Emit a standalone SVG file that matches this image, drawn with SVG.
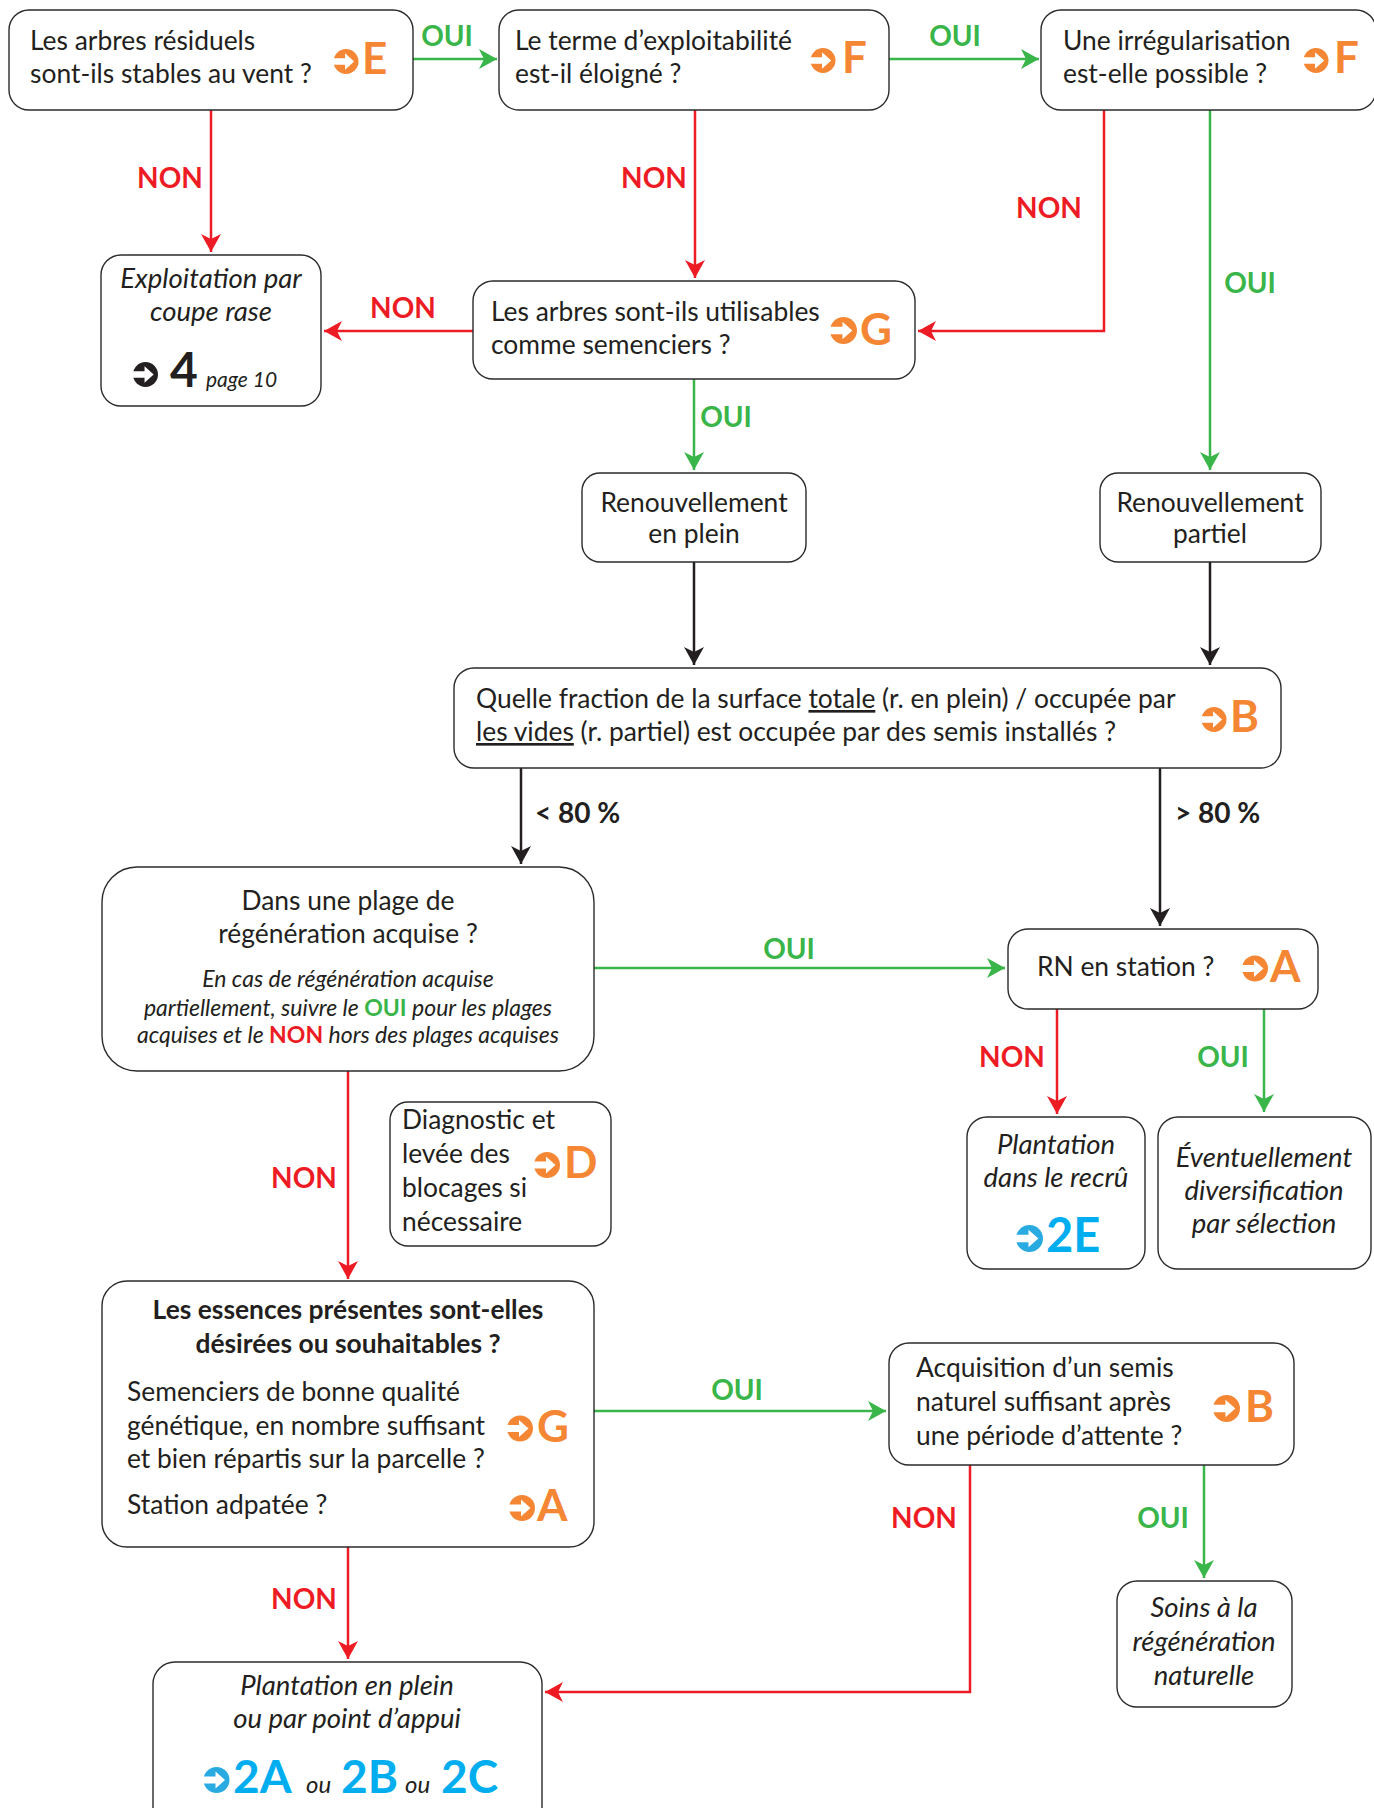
<svg xmlns="http://www.w3.org/2000/svg" xmlns:xlink="http://www.w3.org/1999/xlink" width="1374" height="1808" viewBox="0 0 1374 1808">
<style>
.box{fill:#fff;stroke:#2b2b2b;stroke-width:1.4}
.t{font-family:Lato,"Open Sans",sans-serif;font-size:26.4px;fill:#231F20}
.c{text-anchor:middle}
.i{font-style:italic;font-size:27.5px}
.bd{font-weight:bold}
.lab{font-family:Lato,"Open Sans",sans-serif;font-weight:bold;font-size:28px;text-anchor:middle}
.oui{fill:#39B54A}
.non{fill:#ED1C24}
.ref{font-family:Lato,"Open Sans",sans-serif;font-weight:bold;font-size:44px;fill:#F58634}
.blue{font-family:Lato,"Open Sans",sans-serif;font-weight:bold;font-size:46px;fill:#00AEEF}
.cn{fill:none;stroke-width:2.5}
.r{stroke:#ED1C24}
.g{stroke:#39B54A}
.k{stroke:#231F20}
</style>
<defs>
<symbol id="ar" viewBox="0 0 26 26">
<circle cx="13" cy="13" r="13"/>
<path d="M-1 9.5 H12 V4.5 L21.5 13 L12 21.5 V16.5 H-1 Z" fill="#fff"/>
</symbol>
<marker id="mr" markerUnits="userSpaceOnUse" markerWidth="18" markerHeight="20" refX="18" refY="10" orient="auto" viewBox="0 0 18 20"><path d="M0,0 L18,10 L0,20 L5,10 Z" fill="#ED1C24"/></marker>
<marker id="mg" markerUnits="userSpaceOnUse" markerWidth="18" markerHeight="20" refX="18" refY="10" orient="auto" viewBox="0 0 18 20"><path d="M0,0 L18,10 L0,20 L5,10 Z" fill="#39B54A"/></marker>
<marker id="mk" markerUnits="userSpaceOnUse" markerWidth="18" markerHeight="20" refX="18" refY="10" orient="auto" viewBox="0 0 18 20"><path d="M0,0 L18,10 L0,20 L5,10 Z" fill="#231F20"/></marker>
</defs>

<g id="connectors">
<path class="cn g" d="M413,59 H497" marker-end="url(#mg)"/>
<path class="cn g" d="M889,59 H1039" marker-end="url(#mg)"/>
<path class="cn r" d="M211,110 V252" marker-end="url(#mr)"/>
<path class="cn r" d="M695,110 V278" marker-end="url(#mr)"/>
<path class="cn r" d="M1104,110 V331 H918" marker-end="url(#mr)"/>
<path class="cn g" d="M1210,110 V470" marker-end="url(#mg)"/>
<path class="cn r" d="M473,331 H324" marker-end="url(#mr)"/>
<path class="cn g" d="M694,379 V470" marker-end="url(#mg)"/>
<path class="cn k" d="M694,562 V665" marker-end="url(#mk)"/>
<path class="cn k" d="M1210,562 V665" marker-end="url(#mk)"/>
<path class="cn k" d="M521,768 V864" marker-end="url(#mk)"/>
<path class="cn k" d="M1160,768 V926" marker-end="url(#mk)"/>
<path class="cn g" d="M594,968 H1005" marker-end="url(#mg)"/>
<path class="cn r" d="M1057,1009 V1114" marker-end="url(#mr)"/>
<path class="cn g" d="M1264,1009 V1112" marker-end="url(#mg)"/>
<path class="cn r" d="M348,1071 V1279" marker-end="url(#mr)"/>
<path class="cn g" d="M594,1411 H886" marker-end="url(#mg)"/>
<path class="cn g" d="M1204,1465 V1578" marker-end="url(#mg)"/>
<path class="cn r" d="M970,1465 V1692 H545" marker-end="url(#mr)"/>
<path class="cn r" d="M348,1547 V1659" marker-end="url(#mr)"/>
<text class="lab oui" x="447" y="46">OUI</text>
<text class="lab oui" x="955" y="46">OUI</text>
<text class="lab non" x="170" y="188">NON</text>
<text class="lab non" x="654" y="188">NON</text>
<text class="lab non" x="1049" y="218">NON</text>
<text class="lab oui" x="1250" y="293">OUI</text>
<text class="lab non" x="403" y="318">NON</text>
<text class="lab oui" x="726" y="427">OUI</text>
<text class="lab" x="535" y="823" style="text-anchor:start;fill:#231F20">&lt; 80 %</text>
<text class="lab" x="1175" y="823" style="text-anchor:start;fill:#231F20">&gt; 80 %</text>
<text class="lab oui" x="789" y="959">OUI</text>
<text class="lab non" x="1012" y="1067">NON</text>
<text class="lab oui" x="1223" y="1067">OUI</text>
<text class="lab non" x="304" y="1188">NON</text>
<text class="lab oui" x="737" y="1400">OUI</text>
<text class="lab non" x="924" y="1528">NON</text>
<text class="lab oui" x="1163" y="1528">OUI</text>
<text class="lab non" x="304" y="1609">NON</text>
</g>

<g id="n-stables">
<rect class="box" x="9" y="10" width="404" height="100" rx="20"/>
<text class="t" x="30" y="50">Les arbres résiduels</text>
<text class="t" x="30" y="83">sont-ils stables au vent ?</text>
<use xlink:href="#ar" href="#ar" x="333" y="49" width="26" height="25" fill="#F58634"/>
<text class="ref" x="362" y="74">E</text>
</g>

<g id="n-terme">
<rect class="box" x="499" y="10" width="390" height="100" rx="20"/>
<text class="t" x="515" y="50">Le terme d’exploitabilité</text>
<text class="t" x="515" y="83">est-il éloigné ?</text>
<use xlink:href="#ar" href="#ar" x="810" y="48" width="26" height="25" fill="#F58634"/>
<text class="ref" x="842" y="73">F</text>
</g>

<g id="n-irreg">
<rect class="box" x="1041" y="10" width="335" height="100" rx="20"/>
<text class="t" x="1063" y="50">Une irrégularisation</text>
<text class="t" x="1063" y="83">est-elle possible ?</text>
<use xlink:href="#ar" href="#ar" x="1303" y="48" width="26" height="25" fill="#F58634"/>
<text class="ref" x="1334" y="73">F</text>
</g>

<g id="n-coupe">
<rect class="box" x="101" y="255" width="220" height="151" rx="20"/>
<text class="t i c" x="211" y="288">Exploitation par</text>
<text class="t i c" x="211" y="321">coupe rase</text>
<use xlink:href="#ar" href="#ar" x="133" y="362" width="25" height="25" fill="#231F20"/>
<text class="t bd" x="170" y="387" style="font-size:48px">4</text>
<text class="t i" x="206" y="387" style="font-size:21px">page 10</text>
</g>

<g id="n-semenciers">
<rect class="box" x="473" y="281" width="442" height="98" rx="20"/>
<text class="t" x="491" y="321">Les arbres sont-ils utilisables</text>
<text class="t" x="491" y="354">comme semenciers ?</text>
<use xlink:href="#ar" href="#ar" x="830" y="317" width="27" height="27" fill="#F58634"/>
<text class="ref" x="860" y="345">G</text>
</g>

<g id="n-plein">
<rect class="box" x="582" y="473" width="224" height="89" rx="18"/>
<text class="t c" x="694" y="512">Renouvellement</text>
<text class="t c" x="694" y="543">en plein</text>
</g>

<g id="n-partiel">
<rect class="box" x="1100" y="473" width="221" height="89" rx="18"/>
<text class="t c" x="1210" y="512">Renouvellement</text>
<text class="t c" x="1210" y="543">partiel</text>
</g>

<g id="n-fraction">
<rect class="box" x="454" y="668" width="827" height="100" rx="20"/>
<text class="t" x="476" y="708">Quelle fraction de la surface <tspan text-decoration="underline">totale</tspan> (r. en plein) / occupée par</text>
<text class="t" x="476" y="741"><tspan text-decoration="underline">les vides</tspan> (r. partiel) est occupée par des semis installés ?</text>
<use xlink:href="#ar" href="#ar" x="1201" y="707" width="26" height="25" fill="#F58634"/>
<text class="ref" x="1230" y="732">B</text>
</g>

<g id="n-plage">
<rect class="box" x="102" y="867" width="492" height="204" rx="35"/>
<text class="t c" x="348" y="910">Dans une plage de</text>
<text class="t c" x="348" y="943">régénération acquise ?</text>
<text class="t i c" x="348" y="987" style="font-size:23px">En cas de régénération acquise</text>
<text class="t i c" x="348" y="1016" style="font-size:23px">partiellement, suivre le <tspan class="oui" style="font-style:normal;font-weight:bold">OUI</tspan> pour les plages</text>
<text class="t i c" x="348" y="1043" style="font-size:23px">acquises et le <tspan class="non" style="font-style:normal;font-weight:bold">NON</tspan> hors des plages acquises</text>
</g>

<g id="n-station">
<rect class="box" x="1008" y="929" width="310" height="80" rx="20"/>
<text class="t" x="1037" y="976">RN en station ?</text>
<use xlink:href="#ar" href="#ar" x="1242" y="955" width="26" height="27" fill="#F58634"/>
<text class="ref" x="1270" y="982">A</text>
</g>

<g id="n-recru">
<rect class="box" x="967" y="1117" width="178" height="152" rx="20"/>
<text class="t i c" x="1056" y="1154">Plantation</text>
<text class="t i c" x="1056" y="1187">dans le recrû</text>
<use xlink:href="#ar" href="#ar" x="1016" y="1225" width="27" height="27" fill="#29ABE2"/>
<text class="blue" x="1046" y="1252" style="font-size:47px">2E</text>
</g>

<g id="n-diversification">
<rect class="box" x="1158" y="1117" width="213" height="152" rx="20"/>
<text class="t i c" x="1264" y="1167">Éventuellement</text>
<text class="t i c" x="1264" y="1200">diversification</text>
<text class="t i c" x="1264" y="1233">par sélection</text>
</g>

<g id="n-diagnostic">
<rect class="box" x="390" y="1102" width="221" height="144" rx="18"/>
<text class="t" x="402" y="1129">Diagnostic et</text>
<text class="t" x="402" y="1163">levée des</text>
<text class="t" x="402" y="1197">blocages si</text>
<text class="t" x="402" y="1231">nécessaire</text>
<use xlink:href="#ar" href="#ar" x="534" y="1152" width="26" height="26" fill="#F58634"/>
<text class="ref" x="564" y="1178">D</text>
</g>

<g id="n-essences">
<rect class="box" x="102" y="1281" width="492" height="266" rx="25"/>
<text class="t bd c" x="348" y="1319">Les essences présentes sont-elles</text>
<text class="t bd c" x="348" y="1353">désirées ou souhaitables ?</text>
<text class="t" x="127" y="1401">Semenciers de bonne qualité</text>
<text class="t" x="127" y="1435">génétique, en nombre suffisant</text>
<text class="t" x="127" y="1468">et bien répartis sur la parcelle ?</text>
<text class="t" x="127" y="1514">Station adpatée ?</text>
<use xlink:href="#ar" href="#ar" x="507" y="1415" width="26" height="27" fill="#F58634"/>
<text class="ref" x="537" y="1442">G</text>
<use xlink:href="#ar" href="#ar" x="509" y="1495" width="26" height="26" fill="#F58634"/>
<text class="ref" x="537" y="1521">A</text>
</g>

<g id="n-attente">
<rect class="box" x="889" y="1343" width="405" height="122" rx="20"/>
<text class="t" x="916" y="1377">Acquisition d’un semis</text>
<text class="t" x="916" y="1411">naturel suffisant après</text>
<text class="t" x="916" y="1445">une période d’attente ?</text>
<use xlink:href="#ar" href="#ar" x="1213" y="1395" width="27" height="27" fill="#F58634"/>
<text class="ref" x="1245" y="1422">B</text>
</g>

<g id="n-soins">
<rect class="box" x="1117" y="1581" width="175" height="126" rx="20"/>
<text class="t i c" x="1204" y="1617">Soins à la</text>
<text class="t i c" x="1204" y="1651">régénération</text>
<text class="t i c" x="1204" y="1685">naturelle</text>
</g>

<g id="n-plantation">
<rect class="box" x="153" y="1662" width="389" height="170" rx="22"/>
<text class="t i c" x="347" y="1695">Plantation en plein</text>
<text class="t i c" x="347" y="1728">ou par point d’appui</text>
<use xlink:href="#ar" href="#ar" x="203" y="1767" width="27" height="26" fill="#29ABE2"/>
<text class="blue" x="233" y="1793">2A</text>
<text class="t i" x="306" y="1793" style="font-size:24px">ou</text>
<text class="blue" x="341" y="1793">2B</text>
<text class="t i" x="405" y="1793" style="font-size:24px">ou</text>
<text class="blue" x="441" y="1793">2C</text>
</g>
</svg>
